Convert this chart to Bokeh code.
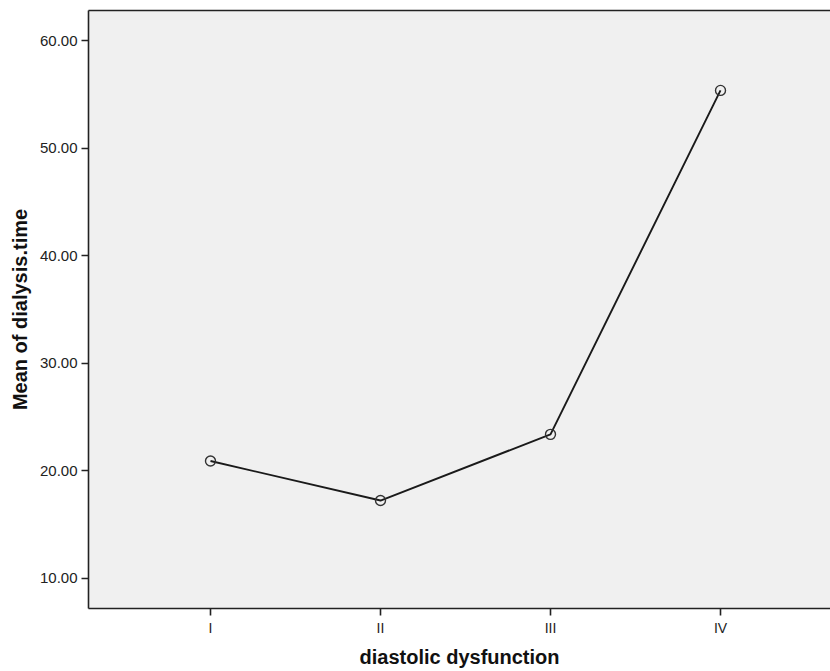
from bokeh.plotting import figure
from bokeh.models import Range1d, FixedTicker, LinearAxis, ColumnDataSource, NumeralTickFormatter
from bokeh.embed import file_html
from bokeh.resources import INLINE

categories = ["I", "II", "III", "IV"]
mean_dialysis_time = [20.91, 17.24, 23.39, 55.37]
y_ticks = [10, 20, 30, 40, 50, 60]

x_pos = list(range(1, len(categories) + 1))
source = ColumnDataSource(data=dict(x=x_pos, y=mean_dialysis_time, cat=categories))

FONT = "Liberation Sans"
DARK = "#222222"

p = figure(width=830, height=671, output_backend="svg", toolbar_location=None,
           x_range=Range1d(0.2824, 4.647), y_range=Range1d(7.2, 62.8),
           min_border_left=88, min_border_right=0, min_border_top=10, min_border_bottom=63)

p.background_fill_color = "#f0f0f0"
p.border_fill_color = "white"
p.outline_line_color = None
p.xgrid.visible = False
p.ygrid.visible = False

p.line("x", "y", source=source, line_color="#1a1a1a", line_width=1.9)
p.scatter("x", "y", source=source, marker="circle", size=10, fill_color=None,
          line_color="#333333", line_width=1.4)

for ax in (p.xaxis[0], p.yaxis[0]):
    ax.axis_line_color = DARK
    ax.axis_line_width = 1.6
    ax.major_tick_line_color = DARK
    ax.major_tick_line_width = 1.6
    ax.major_tick_in = 0
    ax.major_tick_out = 7
    ax.minor_tick_line_color = None
    ax.major_label_text_font = FONT
    ax.major_label_text_color = DARK
    ax.axis_label_text_font = FONT
    ax.axis_label_text_font_style = "bold"
    ax.axis_label_text_font_size = "20px"
    ax.axis_label_text_color = "#111111"

p.xaxis.ticker = FixedTicker(ticks=x_pos)
p.xaxis.major_label_overrides = {x: c for x, c in zip(x_pos, categories)}
p.xaxis.major_label_text_font_size = "14px"
p.xaxis.major_label_standoff = 4
p.xaxis.axis_label = "diastolic dysfunction"
p.xaxis.axis_label_standoff = 7

p.yaxis.ticker = FixedTicker(ticks=y_ticks)
p.yaxis.formatter = NumeralTickFormatter(format="0.00")
p.yaxis.major_label_text_font_size = "15px"
p.yaxis.major_label_standoff = 4
p.yaxis.axis_label = "Mean of dialysis.time"
p.yaxis.axis_label_standoff = 6

top = LinearAxis(ticker=FixedTicker(ticks=[]), major_tick_out=0, major_tick_in=0,
                 minor_tick_out=0, minor_tick_in=0, major_label_text_font_size="0px",
                 major_label_standoff=0, axis_line_color=DARK, axis_line_width=1.6)
p.add_layout(top, "above")

open("out.html", "w").write(file_html(p, INLINE))
